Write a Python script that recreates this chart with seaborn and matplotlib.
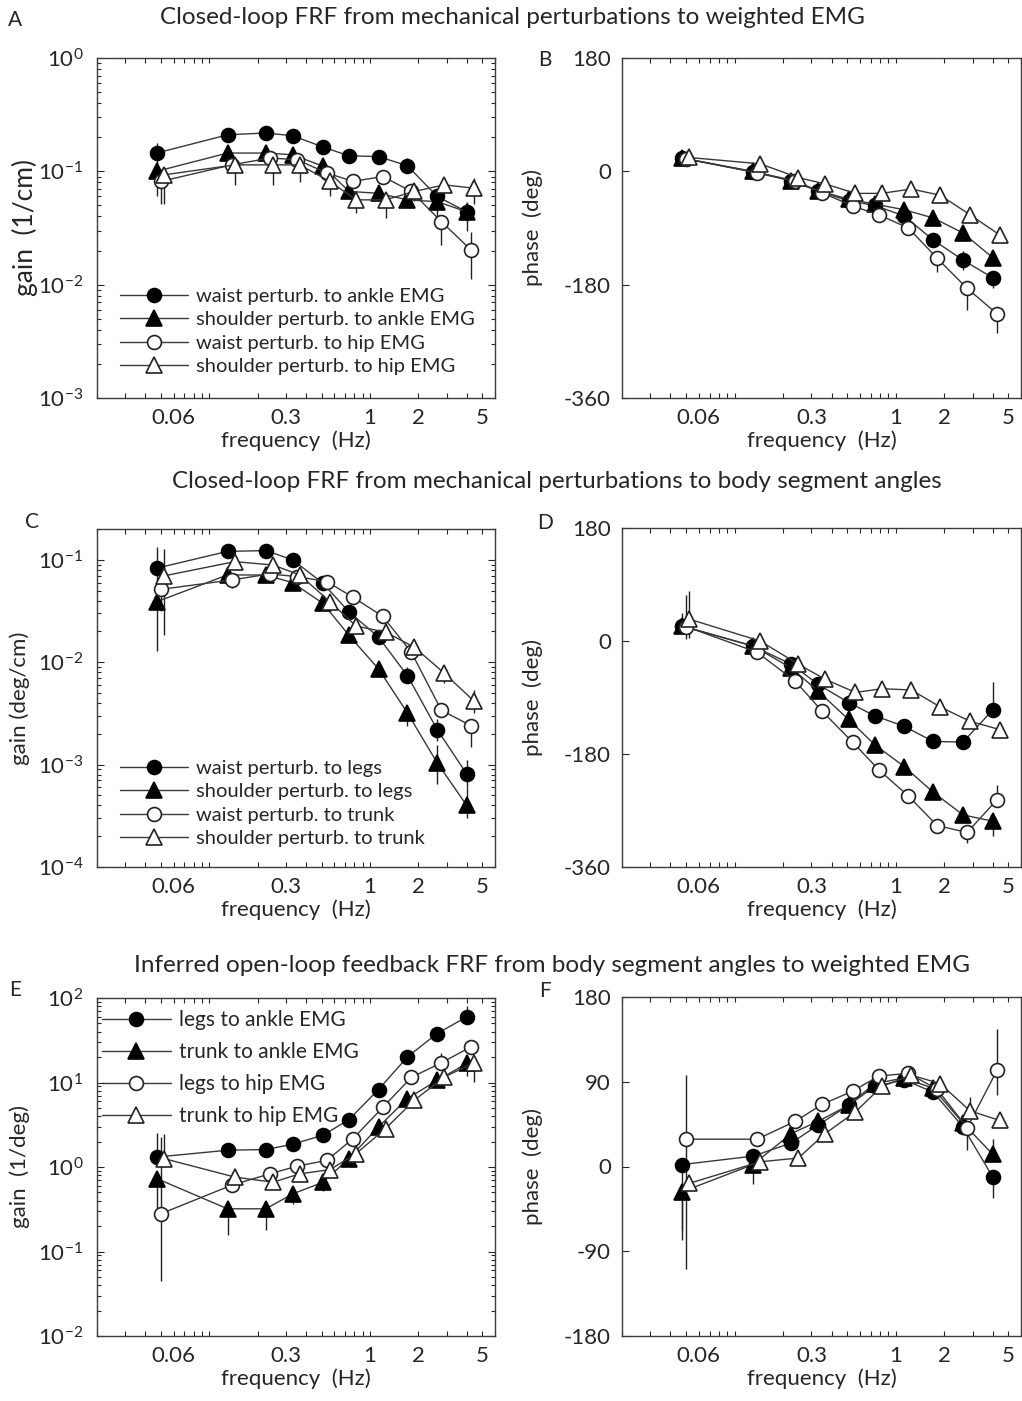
import numpy as np
import pandas as pd
import matplotlib
matplotlib.use("Agg")
import matplotlib.pyplot as plt
import seaborn as sns
from matplotlib.ticker import FixedLocator, FixedFormatter, LogLocator, NullFormatter

# ---------------- data ----------------
# frequencies (Hz): filled markers, open circles, open triangles (slightly offset)
freq_filled = [0.047, 0.13, 0.225, 0.33, 0.51, 0.74, 1.13, 1.71, 2.62, 4.0]
freq_ocirc = [0.050, 0.138, 0.238, 0.35, 0.54, 0.785, 1.2, 1.81, 2.78, 4.25]
freq_otri = [0.052, 0.144, 0.249, 0.365, 0.563, 0.82, 1.25, 1.89, 2.9, 4.42]

# Panel A: gain (1/cm)
A_labels = ["waist perturb. to ankle EMG", "shoulder perturb. to ankle EMG",
            "waist perturb. to hip EMG", "shoulder perturb. to hip EMG"]
A_wa = [0.145, 0.21, 0.218, 0.206, 0.164, 0.137, 0.135, 0.112, 0.060, 0.044]
A_sa = [0.100, 0.145, 0.145, 0.140, 0.111, 0.0665, 0.064, 0.056, 0.054, 0.044]
A_wh = [0.0815, 0.114, 0.131, 0.127, 0.0966, 0.0815, 0.090, 0.0665, 0.036, 0.0203]
A_sh = [0.093, 0.114, 0.114, 0.114, 0.0815, 0.056, 0.056, 0.0665, 0.076, 0.071]
A_wa_lo = [0.03, 0, 0, 0, 0, 0, 0, 0, 0.01, 0.008]
A_wa_hi = [0.033, 0, 0, 0, 0, 0, 0, 0.02, 0, 0]
A_sa_lo = [0.04, 0, 0, 0, 0, 0, 0, 0.006, 0.015, 0.014]
A_sa_hi = [0, 0, 0, 0, 0, 0, 0, 0, 0, 0.01]
A_wh_lo = [0.03, 0, 0, 0, 0, 0, 0, 0, 0.0135, 0.009]
A_wh_hi = [0, 0, 0, 0, 0, 0, 0, 0, 0, 0.009]
A_sh_lo = [0.041, 0.038, 0.038, 0.033, 0.021, 0.013, 0.017, 0.012, 0, 0.02]
A_sh_hi = [0, 0, 0, 0, 0, 0, 0, 0, 0, 0.016]

# Panel B: phase (deg)
B_wa = [21, -1, -15, -31, -47, -54, -71, -109, -141, -169]
B_sa = [21, 0, -15, -31, -44, -52, -61, -74, -98, -137]
B_wh = [20, -2, -15, -34, -55, -69, -90, -138, -186, -226]
B_sh = [22, 12, -10, -20, -35, -35, -28, -38, -69, -101]
B_wa_lo = [0, 0, 0, 0, 0, 0, 0, 0, 15, 17]
B_wa_hi = [0, 0, 0, 0, 0, 0, 0, 0, 14, 10]
B_sa_lo = [0, 0, 0, 0, 0, 0, 0, 0, 0, 8]
B_sa_hi = [0, 0, 0, 0, 0, 0, 8, 0, 0, 8]
B_wh_lo = [0, 0, 0, 0, 4, 0, 8, 22, 35, 30]
B_wh_hi = [0, 0, 0, 0, 0, 0, 0, 0, 0, 0]
B_sh_lo = [0, 0, 0, 0, 0, 0, 0, 0, 5, 8]
B_sh_hi = [0, 0, 0, 0, 0, 0, 0, 0, 0, 0]

# Panel C: gain (deg/cm)
C_labels = ["waist perturb. to legs", "shoulder perturb. to legs",
            "waist perturb. to trunk", "shoulder perturb. to trunk"]
C_wl = [0.0828, 0.121, 0.123, 0.1, 0.059, 0.031, 0.0176, 0.0074, 0.0022, 0.00081]
C_sl = [0.0389, 0.0713, 0.071, 0.0598, 0.0375, 0.0183, 0.0086, 0.0032, 0.00104, 0.0004]
C_wt = [0.0515, 0.0636, 0.0728, 0.0686, 0.0612, 0.043, 0.0281, 0.0125, 0.0034, 0.0024]
C_st = [0.0696, 0.096, 0.089, 0.0713, 0.039, 0.0225, 0.0197, 0.014, 0.0078, 0.0042]
C_wl_lo = [0.03, 0, 0, 0, 0, 0, 0, 0.0012, 0.0005, 0.0002]
C_wl_hi = [0.052, 0, 0, 0, 0, 0, 0, 0.0015, 0.0006, 0.0003]
C_sl_lo = [0.026, 0, 0, 0, 0, 0, 0.0015, 0.0008, 0.0004, 0.0001]
C_sl_hi = [0, 0, 0, 0, 0, 0, 0, 0, 0.0005, 0.0002]
C_wt_lo = [0.02, 0.01, 0, 0, 0, 0, 0, 0, 0, 0.0009]
C_wt_hi = [0, 0, 0, 0, 0, 0, 0, 0, 0, 0]
C_st_lo = [0.051, 0, 0, 0, 0, 0, 0, 0, 0.0015, 0.001]
C_st_hi = [0.058, 0.01, 0, 0, 0, 0, 0, 0, 0, 0.0012]

# Panel D: phase (deg)
D_wl = [24, -8, -37, -69, -98, -119, -136, -160, -161, -110]
D_sl = [24, -8, -43, -80, -125, -165, -200, -241, -277, -287]
D_wt = [23, -18, -64, -112, -161, -205, -247, -294, -305, -253]
D_st = [35, 0, -37, -61, -82, -76, -78, -105, -128, -141]
D_wl_lo = [10, 0, 0, 0, 0, 0, 0, 0, 0, 0]
D_wl_hi = [20, 0, 0, 0, 0, 0, 0, 0, 0, 44]
D_sl_lo = [0, 0, 0, 0, 0, 0, 0, 10, 0, 24]
D_sl_hi = [0, 0, 0, 0, 0, 0, 0, 0, 0, 0]
D_wt_lo = [20, 0, 0, 0, 0, 0, 0, 0, 16, 0]
D_wt_hi = [50, 0, 0, 0, 0, 0, 0, 0, 0, 23]
D_st_lo = [30, 0, 0, 0, 0, 0, 0, 0, 0, 0]
D_st_hi = [45, 0, 0, 0, 0, 0, 0, 0, 0, 0]

# Panel E: gain (1/deg)
E_labels = ["legs to ankle EMG", "trunk to ankle EMG",
            "legs to hip EMG", "trunk to hip EMG"]
E_la = [1.31, 1.58, 1.61, 1.86, 2.38, 3.64, 8.26, 20.1, 38.0, 59.8]
E_ta = [0.73, 0.32, 0.32, 0.48, 0.66, 1.26, 2.98, 6.46, 10.6, 16.8]
E_lh = [0.28, 0.61, 0.83, 1.02, 1.2, 2.17, 5.06, 11.5, 17.1, 26.4]
E_th = [1.26, 0.76, 0.66, 0.83, 0.93, 1.44, 2.85, 6.17, 11.6, 17.1]
E_la_lo = [0, 0, 0, 0, 0, 0, 0, 0, 0, 0]
E_la_hi = [1.2, 0, 0, 0, 0, 0, 0, 0, 5, 20]
E_ta_lo = [0.45, 0.165, 0.14, 0.12, 0.14, 0.2, 0.5, 1.3, 1.5, 5]
E_ta_hi = [0, 0, 0, 0, 0, 0, 0, 0, 0, 0]
E_lh_lo = [0.235, 0, 0, 0, 0, 0, 0, 0, 0, 0]
E_lh_hi = [2.0, 0, 0, 0, 0, 0, 0, 0, 5, 0]
E_th_lo = [0, 0, 0, 0, 0, 0, 0, 0, 0, 7]
E_th_hi = [1.2, 0, 0, 0, 0, 0, 0, 0, 3, 0]

# Panel F: phase (deg)
F_la = [2, 11, 25, 44, 65, 85, 92, 79, 42, -11]
F_ta = [-27, 2, 35, 48, 65, 88, 94, 83, 46, 13]
F_lh = [29, 29, 48, 66, 80, 96, 99, 82, 41, 102]
F_th = [-18, 5, 9, 35, 58, 85, 97, 88, 59, 49]
F_la_lo = [80, 0, 0, 0, 0, 0, 0, 0, 0, 22]
F_la_hi = [0, 0, 0, 0, 0, 0, 0, 0, 0, 0]
F_ta_lo = [40, 21, 0, 0, 0, 0, 0, 0, 0, 0]
F_ta_hi = [0, 0, 0, 0, 0, 0, 0, 0, 0, 16]
F_lh_lo = [138, 0, 0, 0, 0, 0, 0, 0, 24, 26]
F_lh_hi = [68, 0, 0, 0, 0, 0, 0, 0, 0, 44]
F_th_lo = [0, 0, 0, 0, 0, 0, 0, 0, 0, 0]
F_th_hi = [0, 0, 0, 0, 0, 0, 0, 0, 15, 0]

xtick_vals = [0.06, 0.3, 1, 2, 5]
xtick_labels = ["0.06", "0.3", "1", "2", "5"]
titles = ["Closed-loop FRF from mechanical perturbations to weighted EMG",
          "Closed-loop FRF from mechanical perturbations to body segment angles",
          "Inferred open-loop feedback FRF from body segment angles to weighted EMG"]

# ---------------- style ----------------
sns.set_theme(style="ticks")
FONT = ["Lato", "DejaVu Sans"]
plt.rcParams["font.family"] = FONT
plt.rcParams["mathtext.default"] = "regular"
plt.rcParams["axes.unicode_minus"] = False
plt.rcParams["axes.edgecolor"] = "#3c3c3c"
plt.rcParams["axes.linewidth"] = 1.0

TICKFS = 16
LABFS = 16

W, H = 1022, 1401
fig = plt.figure(figsize=(W / 100, H / 100), dpi=100)
fig.patch.set_facecolor("white")

LINEC = "#383838"
styles = [
    dict(marker="o", markersize=10, markerfacecolor="black", markeredgecolor="black"),
    dict(marker="^", markersize=11, markerfacecolor="black", markeredgecolor="black"),
    dict(marker="o", markersize=10, markerfacecolor="white", markeredgecolor="#222222"),
    dict(marker="^", markersize=11, markerfacecolor="white", markeredgecolor="#222222"),
]
freqs = [freq_filled, freq_filled, freq_ocirc, freq_otri]


def px_axes(left, top, right, bottom):
    return fig.add_axes([left / W, 1 - bottom / H, (right - left) / W, (bottom - top) / H])


def draw(ax, series, los, his, labels=None):
    for i, (vals, lo, hi) in enumerate(zip(series, los, his)):
        f = freqs[i]
        df = pd.DataFrame({"f": f, "v": vals})
        lab = labels[i] if labels else None
        sns.lineplot(data=df, x="f", y="v", ax=ax, color=LINEC, lw=1.0,
                     markeredgewidth=1.2, label=lab, zorder=3 + i, **styles[i])
        for fx, v, l, h in zip(f, vals, lo, hi):
            if l > 0 or h > 0:
                ax.vlines(fx, v - l, v + h, colors="#222222", lw=1.0, zorder=2)
    leg = ax.get_legend()
    if leg is not None:
        leg.remove()


def style_x(ax):
    ax.set_xscale("log")
    ax.set_xlim(0.02, 6)
    ax.xaxis.set_major_locator(FixedLocator(xtick_vals))
    ax.xaxis.set_major_formatter(FixedFormatter(xtick_labels))
    ax.xaxis.set_minor_locator(LogLocator(base=10, subs=np.arange(1, 10), numticks=30))
    ax.xaxis.set_minor_formatter(NullFormatter())
    ax.xaxis.remove_overlapping_locs = False
    ax.tick_params(axis="x", which="major", length=0, pad=7, labelsize=TICKFS)
    ax.tick_params(axis="x", which="minor", length=3.5, width=0.8, direction="in",
                   top=True, bottom=True)
    ax.set_xlabel("frequency  (Hz)", fontsize=LABFS, labelpad=2)


def style_log_y(ax, lo, hi):
    ax.set_yscale("log")
    ax.set_ylim(lo, hi)
    ax.yaxis.set_major_locator(LogLocator(base=10, numticks=10))
    ax.yaxis.set_minor_locator(LogLocator(base=10, subs=np.arange(2, 10), numticks=30))
    ax.yaxis.set_minor_formatter(NullFormatter())
    ax.tick_params(axis="y", which="major", length=5, width=0.8, direction="in",
                   left=True, right=True, labelsize=TICKFS, pad=10)
    ax.tick_params(axis="y", which="minor", length=3, width=0.8, direction="in",
                   left=True, right=True)


def style_phase_y(ax, lo, hi, ticks):
    ax.set_ylim(lo, hi)
    ax.set_yticks(ticks)
    ax.set_yticklabels([str(t) for t in ticks])
    ax.tick_params(axis="y", which="major", length=5, width=0.8, direction="in",
                   left=True, right=False, labelsize=TICKFS, pad=8)


def add_legend(ax, anchor, fs, spacing, hl, tp):
    h, l = ax.get_legend_handles_labels()
    ax.legend(h, l, loc="upper left", bbox_to_anchor=anchor, frameon=False,
              fontsize=fs, handlelength=hl, handletextpad=tp, labelspacing=spacing,
              borderpad=0, borderaxespad=0, numpoints=1)


# Row 1
axA = px_axes(97, 58, 495, 398)
draw(axA, [A_wa, A_sa, A_wh, A_sh], [A_wa_lo, A_sa_lo, A_wh_lo, A_sh_lo],
     [A_wa_hi, A_sa_hi, A_wh_hi, A_sh_hi], A_labels)
style_x(axA)
style_log_y(axA, 1e-3, 1e0)
axA.set_ylabel("gain  (1/cm)", fontsize=19)
axA.yaxis.set_label_coords(-0.148, 0.5)
add_legend(axA, (0.058, 0.325), 14.5, 0.32, 3.35, 0.4)

axB = px_axes(622, 58, 1021, 398)
draw(axB, [B_wa, B_sa, B_wh, B_sh], [B_wa_lo, B_sa_lo, B_wh_lo, B_sh_lo],
     [B_wa_hi, B_sa_hi, B_wh_hi, B_sh_hi])
style_x(axB)
style_phase_y(axB, -360, 180, [-360, -180, 0, 180])
axB.set_ylabel("phase  (deg)", fontsize=LABFS)
axB.yaxis.set_label_coords(-0.198, 0.5)

# Row 2
axC = px_axes(97, 529, 495, 867)
draw(axC, [C_wl, C_sl, C_wt, C_st], [C_wl_lo, C_sl_lo, C_wt_lo, C_st_lo],
     [C_wl_hi, C_sl_hi, C_wt_hi, C_st_hi], C_labels)
style_x(axC)
style_log_y(axC, 1e-4, 0.2)
axC.set_ylabel("gain (deg/cm)", fontsize=LABFS)
axC.yaxis.set_label_coords(-0.168, 0.5)
add_legend(axC, (0.058, 0.318), 14.5, 0.32, 3.35, 0.4)

axD = px_axes(622, 528, 1021, 867)
draw(axD, [D_wl, D_sl, D_wt, D_st], [D_wl_lo, D_sl_lo, D_wt_lo, D_st_lo],
     [D_wl_hi, D_sl_hi, D_wt_hi, D_st_hi])
style_x(axD)
style_phase_y(axD, -360, 180, [-360, -180, 0, 180])
axD.set_ylabel("phase  (deg)", fontsize=LABFS)
axD.yaxis.set_label_coords(-0.198, 0.5)

# Row 3
axE = px_axes(97, 998, 495, 1336)
draw(axE, [E_la, E_ta, E_lh, E_th], [E_la_lo, E_ta_lo, E_lh_lo, E_th_lo],
     [E_la_hi, E_ta_hi, E_lh_hi, E_th_hi], E_labels)
style_x(axE)
style_log_y(axE, 1e-2, 1e2)
axE.set_ylabel("gain  (1/deg)", fontsize=LABFS)
axE.yaxis.set_label_coords(-0.168, 0.5)
add_legend(axE, (0.012, 0.965), 15, 0.58, 3.3, 0.4)

axF = px_axes(622, 997, 1021, 1336)
draw(axF, [F_la, F_ta, F_lh, F_th], [F_la_lo, F_ta_lo, F_lh_lo, F_th_lo],
     [F_la_hi, F_ta_hi, F_lh_hi, F_th_hi])
style_x(axF)
style_phase_y(axF, -180, 180, [-180, -90, 0, 90, 180])
axF.set_ylabel("phase  (deg)", fontsize=LABFS)
axF.yaxis.set_label_coords(-0.198, 0.5)

for ax in [axA, axB, axC, axD, axE, axF]:
    for s in ax.spines.values():
        s.set_visible(True)
        s.set_color("#3c3c3c")
    ax.set_facecolor("white")

# titles & panel letters
fig.text(512 / W, 1 - 18 / H, titles[0], ha="center", va="center", fontsize=17.5)
fig.text(557 / W, 1 - 482 / H, titles[1], ha="center", va="center", fontsize=17.5)
fig.text(552 / W, 1 - 965 / H, titles[2], ha="center", va="center", fontsize=17.5)
for letter, (x, y) in zip("ABCDEF", [(15, 20), (545, 60), (32, 522), (545, 523), (15, 990), (545, 991)]):
    fig.text(x / W, 1 - y / H, letter, ha="center", va="center", fontsize=15)

fig.savefig("out.png", dpi=100, facecolor="white")
